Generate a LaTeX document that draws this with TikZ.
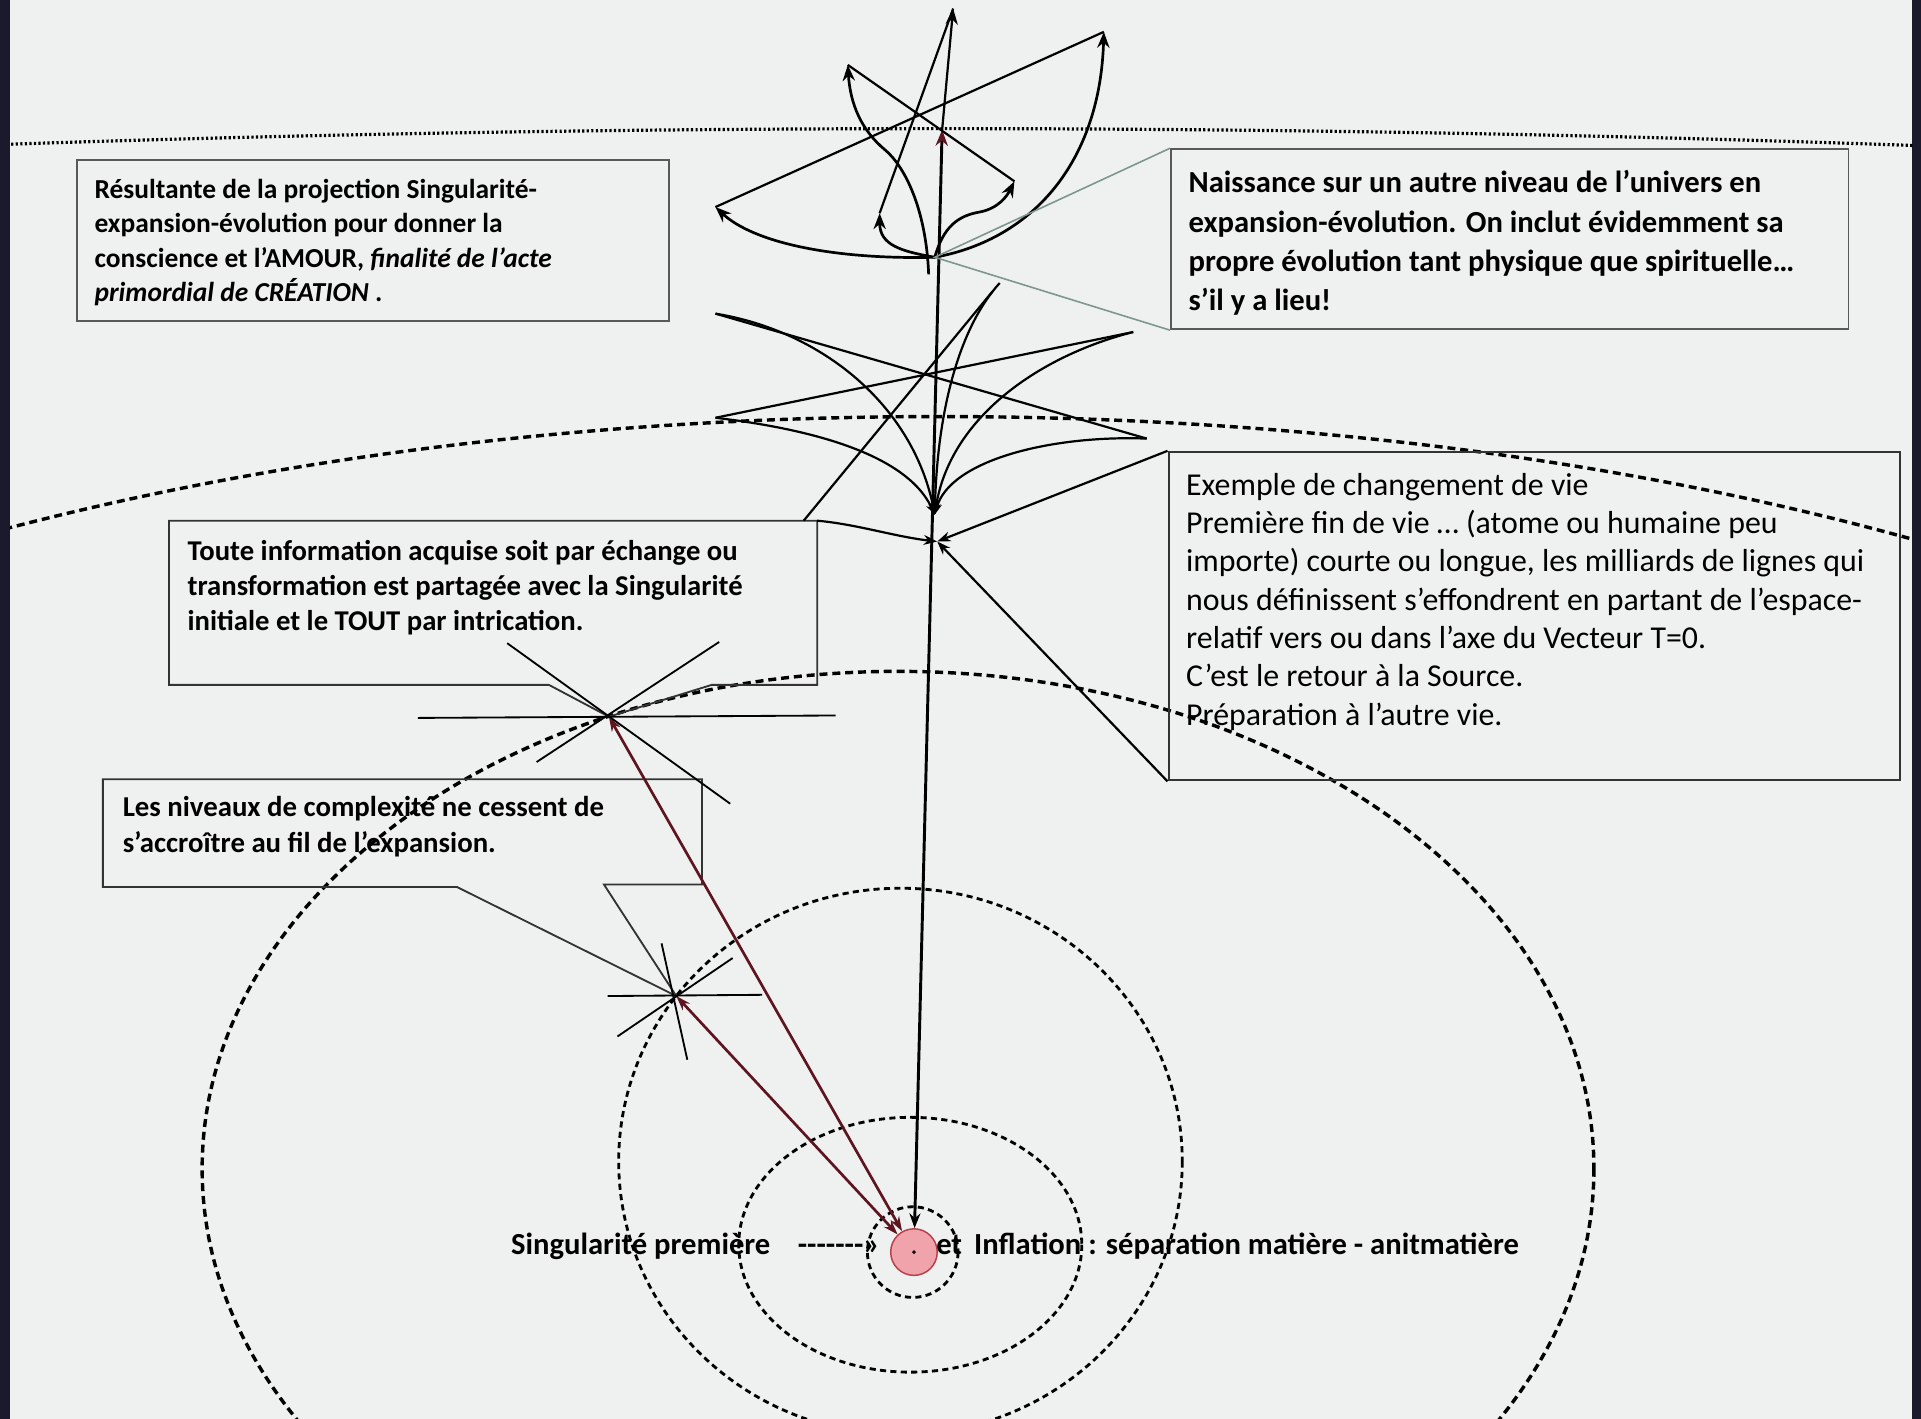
\documentclass[tikz,border=0pt]{standalone}
\usepackage{fontspec}
\setmainfont{Carlito}
\usetikzlibrary{arrows.meta}

\definecolor{pagebg}{HTML}{EFF1F1}
\definecolor{edgedark}{HTML}{1B1A2C}
\definecolor{redline}{HTML}{5E1520}
\definecolor{pointer}{HTML}{7E9690}
\definecolor{singfill}{HTML}{F0A3AA}
\definecolor{singdraw}{HTML}{B8404C}

\begin{document}
\begin{tikzpicture}[x=1pt, y=-1pt,
    frame/.style={draw=black!80, line width=1.5pt, anchor=north west, inner sep=0pt},
    callout/.style={draw=black!80, line width=1.5pt},
    boldnote/.style={anchor=north west, inner sep=0pt, align=left},
    plainnote/.style={anchor=north west, inner sep=0pt, align=left},
    topline/.style={dash pattern=on 1.8pt off 1.9pt, line width=2.6pt},
    orbit/.style={dash pattern=on 6.5pt off 4pt, line width=2.8pt},
    ring/.style={dash pattern=on 5pt off 3.5pt, line width=2.3pt},
    stem/.style={line width=2.4pt},
    petal/.style={line width=2.2pt, -{Stealth[length=13pt,width=10pt]}},
    strand/.style={line width=1.8pt},
    spoke/.style={line width=1.5pt},
    tie/.style={line width=2.2pt, draw=redline, {Stealth[length=12pt,width=8pt]}-{Stealth[length=12pt,width=8pt]}},
    leader/.style={draw=pointer, line width=1.3pt},
    singularity/.style={circle, draw=singdraw, fill=singfill, line width=1.2pt, minimum size=38pt, inner sep=0pt}]
  \useasboundingbox (0,0) rectangle (1568,1158);
  \fill[pagebg] (0,0) rectangle (1568,1158);
  \fill[edgedark] (0,0) rectangle (8,1158);
  \fill[edgedark] (1561,0) rectangle (1568,1158);

  % niveaux d'expansion
  \begin{scope}
    \clip (8,0) rectangle (1561,1158);
    \draw[topline] (770,954) ellipse [x radius=4392, y radius=849];
    \draw[orbit] (767,954) ellipse [x radius=1450, y radius=614];
    \draw[orbit] (733,954) ellipse [x radius=568, y radius=406];
    \draw[ring] (735,948) ellipse [x radius=230, y radius=223];
    \draw[ring] (743,1016) ellipse [x radius=140, y radius=104];
    \draw[ring] (745,1022) circle [radius=37];
  \end{scope}

  % points
  \node[singularity] (sing) at (746,1022) {};
  \fill (sing) circle (1.6pt);
  \coordinate (C) at (763,210);
  \coordinate (V) at (769,106);
  \coordinate (T1) at (778,7);
  \coordinate (LL) at (718,174);
  \coordinate (UL) at (692,53);
  \coordinate (LR) at (828,148);
  \coordinate (L) at (584,169);
  \coordinate (R) at (901,26);
  \coordinate (K) at (763,420);
  \coordinate (K2) at (765,442);
  \coordinate (P1) at (584,256);
  \coordinate (P2) at (925,271);
  \coordinate (P3) at (584,341);
  \coordinate (P4) at (936,358);
  \coordinate (Q) at (816,231);
  \coordinate (Qb) at (810,238);
  \coordinate (S1) at (497,585);
  \coordinate (S2) at (552,813);

  % boites
  \node[frame, draw=black!65, minimum width=483pt, minimum height=131pt] (resultantebox) at (62,130) {};
  \node[frame, draw=black!65, minimum width=553pt, minimum height=147pt] (naissancebox) at (955,121) {};
  \node[frame, line width=1.8pt, minimum width=597pt, minimum height=268pt] (exemplebox) at (953,368) {};
  \coordinate (toutcorner) at (667,425);
  \draw[callout] (448,559) -- (138,559) -- (138,425) -- (toutcorner) -- (667,559) -- (581,559) -- (S1) -- cycle;
  \draw[callout] (373,724) -- (84,724) -- (84,636) -- (573,636) -- (573,722) -- (493,722) -- (S2) -- cycle;

  \node[boldnote, font=\fontsize{22.4}{28}\selectfont\bfseries] (resultante) at (77,146) {R\'esultante de la projection Singularit\'e-\\expansion-\'evolution pour donner la\\conscience et l'AMOUR, \textit{finalit\'e de l'acte}\\\textit{primordial de CR\'EATION} .};
  \node[boldnote, font=\fontsize{25}{32}\selectfont\bfseries] (naissance) at (970,139) {Naissance sur un autre niveau de l'univers en\\expansion-\'evolution. On inclut \'evidemment sa\\propre \'evolution tant physique que spirituelle…\\s'il y a lieu!};
  \node[boldnote, font=\fontsize{23.4}{28.5}\selectfont\bfseries] (tout) at (153,441) {Toute information acquise soit par \'echange ou\\transformation est partag\'ee avec la Singularit\'e\\initiale et le TOUT par intrication.};
  \node[boldnote, font=\fontsize{23.5}{29}\selectfont\bfseries] (niveaux) at (100,650) {Les niveaux de complexit\'e ne cessent de\\s'accro\^itre au fil de l'expansion.};
  \node[plainnote, font=\fontsize{26}{31.3}\selectfont] (exemple) at (968,386) {Exemple de changement de vie\\Premi\`ere fin de vie … (atome ou humaine peu\\importe) courte ou longue, les milliards de lignes qui\\nous d\'efinissent s'effondrent en partant de l'espace-\\relatif vers ou dans l'axe du Vecteur T=0.\\C'est le retour \`a la Source.\\Pr\'eparation \`a l'autre vie.};

  \node[anchor=base west, inner sep=0pt, font=\fontsize{25}{30}\selectfont\bfseries] (premiere) at (417,1024) {Singularit\'e premi\`ere};
  \node[anchor=base west, inner sep=0pt, font=\fontsize{25}{30}\selectfont\bfseries] (fleche) at (651,1024) {-{}-{}-{}-{}-{}-{}-»};
  \node[anchor=base west, inner sep=0pt, font=\fontsize{25}{30}\selectfont\bfseries] (et) at (764,1024) {et};
  \node[anchor=base west, inner sep=0pt, font=\fontsize{25}{30}\selectfont\bfseries] (inflation) at (795,1024) {Inflation : s\'eparation mati\`ere - anitmati\`ere};

  % axe vertical
  \draw[stem, {Stealth[length=12pt,width=9pt]}-{Stealth[length=13pt,width=10pt,color=redline]}] (sing) -- (V);
  \draw[tie] (sing) -- (S1);
  \draw[tie] (sing) -- (S2);

  % fleur du haut
  \draw[strand] (T1) -- (LL);
  \draw[strand, -{Stealth[length=13pt,width=10pt]}] (V) -- (T1);
  \draw[strand] (UL) -- (LR);
  \draw[strand] (L) -- (R);
  \draw[petal] (C) .. controls (680,212) and (615,198) .. (L);
  \draw[petal] (C) .. controls (845,195) and (898,130) .. (R);
  \draw[petal] (758,224) .. controls (756,170) and (738,135) .. (722,122) .. controls (703,106) and (694,85) .. (UL);
  \draw[petal] (C) .. controls (770,185) and (782,176) .. (800,173) .. controls (815,170) and (822,160) .. (LR);
  \draw[petal] (C) .. controls (735,205) and (718,200) .. (LL);
  \draw[leader] (naissancebox.north west) -- (C) -- (naissancebox.south west);

  % etoile du milieu
  \draw[strand] (P1) -- (P4);
  \draw[strand] (P2) -- (P3);
  \draw[strand, -{Stealth[length=9pt,width=7pt]}] (P1) .. controls (670,270) and (745,330) .. (K);
  \draw[strand, -{Stealth[length=9pt,width=7pt]}] (P3) .. controls (660,350) and (740,370) .. (K);
  \draw[strand, -{Stealth[length=9pt,width=7pt]}] (P2) .. controls (850,290) and (775,340) .. (K);
  \draw[strand, -{Stealth[length=9pt,width=7pt]}] (P4) .. controls (860,355) and (775,375) .. (K);
  \draw[strand, -{Stealth[length=9pt,width=7pt]}] (Q) .. controls (785,265) and (765,330) .. (K);
  \draw[strand] (Qb) -- (656,425);
  \draw[strand, -{Stealth[length=11pt,width=8pt]}] (toutcorner) .. controls (700,428) and (730,438) .. (K2);
  \draw[strand, -{Stealth[length=11pt,width=8pt]}] (exemplebox.north west) -- (K2);
  \draw[strand, -{Stealth[length=11pt,width=8pt]}] (exemplebox.south west) -- (K2);

  % etoiles des niveaux
  \draw[spoke] (341,586) -- (682,584);
  \draw[spoke] (414,525) -- (596,656);
  \draw[spoke] (587,524) -- (438,622);
  \draw[spoke] (496,813) -- (622,812);
  \draw[spoke] (540,770) -- (561,865);
  \draw[spoke] (504,846) -- (598,782);
\end{tikzpicture}
\end{document}
